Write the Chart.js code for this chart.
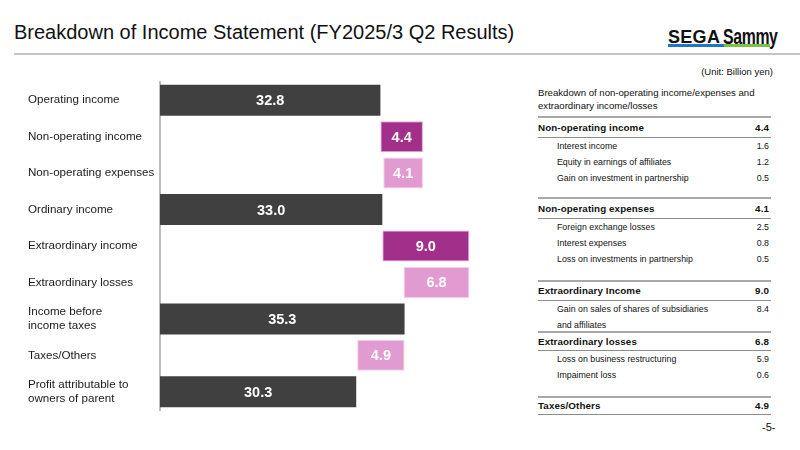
<!DOCTYPE html>
<html>
<head>
<meta charset="utf-8">
<script src="https://cdn.jsdelivr.net/npm/chart.js@4.4.1/dist/chart.umd.min.js"></script>
<style>
	html, body { margin: 0; padding: 0; background: #fff; }
	body { width: 800px; height: 450px; position: relative; overflow: hidden; font-family: "Liberation Sans", Arial, sans-serif; color: #111; }
	#title { position: absolute; left: 14px; top: 21px; font-size: 20px; white-space: nowrap; }
	#headline { position: absolute; left: 14px; top: 53px; width: 786px; height: 2px; background: #c4c4c4; }
	#logo { position: absolute; left: 668px; top: 24px; width: 110px; height: 26px; }
	#logo .txt { position: absolute; top: 0; font-weight: bold; color: #111; white-space: nowrap; transform-origin: left top; }
	#logo .sega { left: 0; top: 3px; font-size: 18px; letter-spacing: 0.3px; transform: scaleX(1.0); }
	#logo .sammy { left: 55px; top: 0; font-size: 22px; letter-spacing: -0.5px; transform: scaleX(0.72); }
	#logo .blue { position: absolute; left: 0; top: 20px; width: 56px; height: 3px; background: #1f74c9; }
	#logo .green { position: absolute; left: 56px; top: 20px; width: 46px; height: 3px; background: #7cc142; }
	#chartBox { position: absolute; left: 0; top: 0; width: 520px; height: 450px; }
	#unit { position: absolute; right: 27px; top: 66px; font-size: 9.5px; }
	#caption { position: absolute; left: 538px; top: 86px; font-size: 9.6px; line-height: 13px; }
	.grp { position: absolute; left: 538px; width: 233px; }
	.grp .head { border-top: 2px solid #a8a8a8; border-bottom: 1px solid #8c8c8c; font-weight: bold; font-size: 9.8px; letter-spacing: 0.1px; position: relative; }
	.grp .item { font-size: 8.8px; position: relative; padding-left: 19px; line-height: 16px; }
	.grp .val { position: absolute; right: 2px; top: 0; }
	#page { position: absolute; left: 762px; top: 421px; font-size: 11px; }
</style>
</head>
<body>
<div id="title">Breakdown of Income Statement (FY2025/3 Q2 Results)</div>
<div id="headline"></div>
<div id="logo">
	<div class="txt sega">SEGA</div><div class="txt sammy">Sammy</div>
	<div class="blue"></div><div class="green"></div>
</div>
<div id="chartBox"><canvas id="chart"></canvas></div>
<div id="unit">(Unit: Billion yen)</div>
<div id="caption">Breakdown of non-operating income/expenses and<br>extraordinary income/losses</div>
<div id="table"></div>
<div id="page">-5-</div>

<script>
// waterfall data (billion yen)
var categories = [
	'Operating income',
	'Non-operating income',
	'Non-operating expenses',
	'Ordinary income',
	'Extraordinary income',
	'Extraordinary losses',
	['Income before', 'income taxes'],
	'Taxes/Others',
	['Profit attributable to', 'owners of parent']
];
var values = [32.8, 4.4, 4.1, 33.0, 9.0, 6.8, 35.3, 4.9, 30.3];
var kinds = ['total', 'up', 'down', 'total', 'up', 'down', 'total', 'down', 'total'];

// breakdown table
var groupNames = ['Non-operating income', 'Non-operating expenses', 'Extraordinary Income', 'Extraordinary losses', 'Taxes/Others'];
var groupTotals = ['4.4', '4.1', '9.0', '6.8', '4.9'];
var groupItems = [
	[['Interest income', '1.6'], ['Equity in earnings of affiliates', '1.2'], ['Gain on investment in partnership', '0.5']],
	[['Foreign exchange losses', '2.5'], ['Interest expenses', '0.8'], ['Loss on investments in partnership', '0.5']],
	[['Gain on sales of shares of subsidiaries<br>and affiliates', '8.4']],
	[['Loss on business restructuring', '5.9'], ['Impaiment loss', '0.6']],
	[]
];
var groupTops = [116, 197, 280, 331, 396];
var groupHeadHeights = [19, 19, 18, 17, 16];

var colors = {
	total: '#404040',
	up: '#a2308a',
	down: '#e29bd0'
};
var borders = {
	total: '#404040',
	up: '#e7a9d8',
	down: '#f3cdea'
};

function buildTable() {
	var html = '';
	for (var i = 0; i < groupNames.length; i++) {
		html += '<div class="grp" style="top:' + groupTops[i] + 'px">';
		html += '<div class="head" style="height:' + groupHeadHeights[i] + 'px;line-height:' + groupHeadHeights[i] + 'px">' + groupNames[i] + '<span class="val">' + groupTotals[i] + '</span></div>';
		for (var j = 0; j < groupItems[i].length; j++) {
			html += '<div class="item">' + groupItems[i][j][0] + '<span class="val">' + groupItems[i][j][1] + '</span></div>';
		}
		html += '</div>';
	}
	document.getElementById('table').innerHTML = html;
}

function waterfall() {
	var running = 0;
	return values.map(function (v, i) {
		if (kinds[i] == 'total') {
			running = v;
			return [0, v];
		}
		if (kinds[i] == 'up') {
			var from = running;
			running = running + v;
			return [from, running];
		}
		var top = running;
		running = running - v;
		return [running, top];
	});
}

var barLabels = {
	id: 'barLabels',
	afterDatasetsDraw: function (chart) {
		var ctx = chart.ctx;
		var area = chart.chartArea;
		var meta = chart.getDatasetMeta(0);
		ctx.save();
		ctx.fillStyle = '#ffffff';
		ctx.font = 'bold 14.5px "Liberation Sans", Arial, sans-serif';
		ctx.textAlign = 'center';
		ctx.textBaseline = 'middle';
		meta.data.forEach(function (el, i) {
			var p = el.getProps(['x', 'y', 'base'], true);
			var a = Math.max(Math.min(p.x, p.base), area.left);
			var b = Math.max(p.x, p.base);
			ctx.fillText(values[i].toFixed(1), (a + b) / 2, p.y + 1);
		});
		ctx.restore();
	}
};

buildTable();

var ctx = document.getElementById('chart').getContext('2d');
var chart = new Chart(ctx, {
	type: 'bar',
	data: {
		labels: categories,
		datasets: [{
			data: waterfall(),
			backgroundColor: kinds.map(function (k) { return colors[k]; }),
			borderColor: kinds.map(function (k) { return borders[k]; }),
			borderWidth: kinds.map(function (k) { return k == 'total' ? 0 : 1; }),
			borderSkipped: false,
			barPercentage: 0.85,
			categoryPercentage: 1.0
		}]
	},
	options: {
		indexAxis: 'y',
		responsive: true,
		maintainAspectRatio: false,
		animation: false,
		layout: { padding: { left: 28, top: 82, bottom: 40, right: 41 } },
		plugins: {
			legend: { display: false },
			tooltip: { enabled: false }
		},
		scales: {
			x: {
				display: false,
				min: 10,
				max: 43
			},
			y: {
				grid: { display: false },
				border: { display: true, color: '#bdbdbd', width: 2 },
				ticks: {
					crossAlign: 'far',
					color: '#1a1a1a',
					font: { family: '"Liberation Sans", Arial, sans-serif', size: 11.6 }
				},
				afterFit: function (axis) {
					axis.width = 132;
				}
			}
		}
	},
	plugins: [barLabels]
});
</script>
</body>
</html>
